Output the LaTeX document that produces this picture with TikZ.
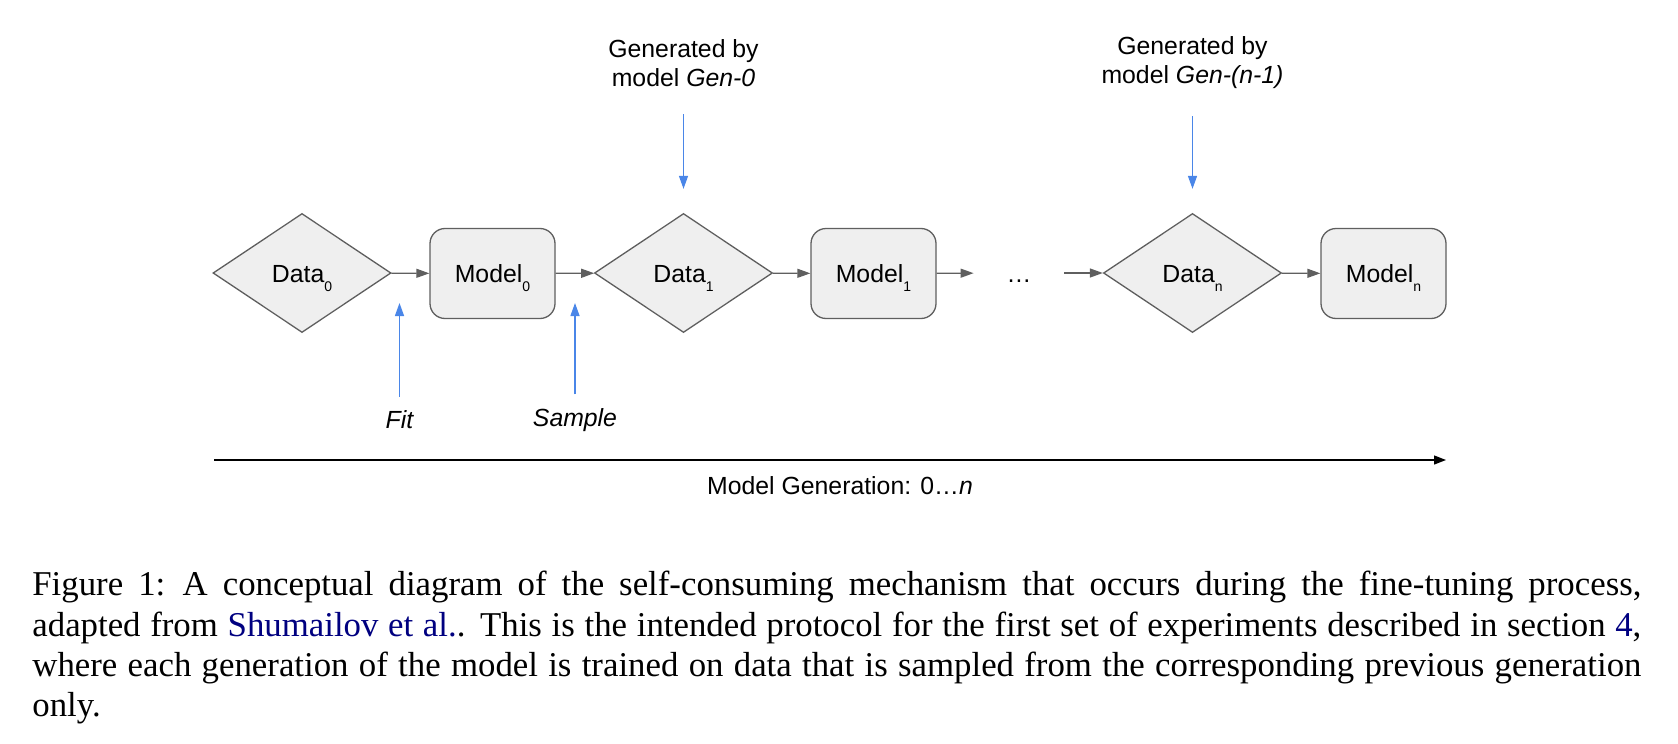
\documentclass[tikz,border=0pt]{standalone}
\usepackage{fontspec}
\setmainfont{Liberation Sans}
\newfontfamily\capfont{Liberation Serif}
\usepackage{tikz}
\usetikzlibrary{arrows.meta,shapes.geometric}
\usepackage{xcolor}
\definecolor{boxfill}{HTML}{EFEFEF}
\definecolor{boxline}{HTML}{5F5F5F}
\definecolor{genblue}{HTML}{4A86E8}
\definecolor{citeblue}{HTML}{000080}
\newcommand{\gsub}[1]{\raisebox{-4.5pt}{\fontsize{7pt}{7pt}\selectfont #1}}

\begin{document}
\begin{tikzpicture}[x=0.5pt,y=-0.5pt,font=\fontsize{12.4pt}{14.5pt}\selectfont,
  data/.style={diamond,draw=boxline,fill=boxfill,line width=0.65pt,minimum width=89pt,minimum height=59.5pt,inner sep=0pt,aspect=1.5,text height=9pt,text depth=0pt},
  model/.style={rectangle,rounded corners=7.5pt,draw=boxline,fill=boxfill,line width=0.65pt,minimum width=62.5pt,minimum height=45pt,inner sep=0pt,text height=9pt,text depth=0pt},
  flow/.style={draw=boxline,line width=0.65pt,-{Triangle[length=6.5pt,width=4.5pt]}},
  feed/.style={draw=genblue,line width=0.65pt,-{Triangle[length=6.5pt,width=4.5pt]}},
  note/.style={inner sep=0pt,outer sep=7pt,font=\fontsize{12.4pt}{14.5pt}\selectfont\itshape}]
\useasboundingbox (0,0) rectangle (1678,744);
\node[data] (d0) at (302,273) {Data\gsub{0}};
\node[model] (m0) at (492.5,273.5) {Model\gsub{0}};
\node[data] (d1) at (683.5,273) {Data\gsub{1}};
\node[model] (m1) at (873.5,273.5) {Model\gsub{1}};
\node[inner sep=0pt,minimum width=45pt,text height=9pt,text depth=0pt] (dots) at (1019,273) {\dots};
\node[data] (dn) at (1192.5,273) {Data\gsub{n}};
\node[model] (mn) at (1383.5,273.5) {Model\gsub{n}};
\draw[flow] (d0) -- (m0);
\draw[flow] (m0) -- (d1);
\draw[flow] (d1) -- (m1);
\draw[flow] (m1) -- (dots);
\draw[flow] (dots) -- (dn);
\draw[flow] (dn) -- (mn);
\node[align=center,inner sep=0pt] (g0) at (683.5,63) {Generated by\\model \textit{Gen-0}};
\node[align=center,inner sep=0pt] (gn) at (1192.5,63) {Generated by\\model \textit{Gen-(n-1)}};
\draw[feed,shorten <=13.5pt,shorten >=12pt] (g0) -- (d1);
\draw[feed,shorten <=13.5pt,shorten >=12pt] (gn) -- (dn);
\node[note] (fit) at (399.5,420) {Fit};
\node[note] (sample) at (575,420) {Sample};
\coordinate (fittip) at (399.5,303);
\coordinate (sampletip) at (575,303);
\draw[feed] (fit) -- (fittip);
\draw[feed] (sample) -- (sampletip);
\coordinate (tl0) at (214,460);
\coordinate (tl1) at (1446,460);
\draw[line width=0.65pt,-{Triangle[length=6pt,width=4.5pt]}] (tl0) -- (tl1);
\node (tlabel) at (840,486) {Model Generation: 0\dots\textit{n}};
\node[anchor=north west,inner sep=0pt,text width=804.5pt,align=justify,font=\capfont\fontsize{17.4pt}{20.15pt}\selectfont] (cap) at (32,571) {Figure 1:\hspace{0.5em}A conceptual diagram of the self-consuming mechanism that occurs during the fine-tuning process,\linebreak adapted from \textcolor{citeblue}{Shumailov et al.}. This is the intended protocol for the first set of experiments described in section~\textcolor{citeblue}{4},\linebreak where each generation of the model is trained on data that is sampled from the corresponding previous generation\linebreak only.};
\end{tikzpicture}
\end{document}
